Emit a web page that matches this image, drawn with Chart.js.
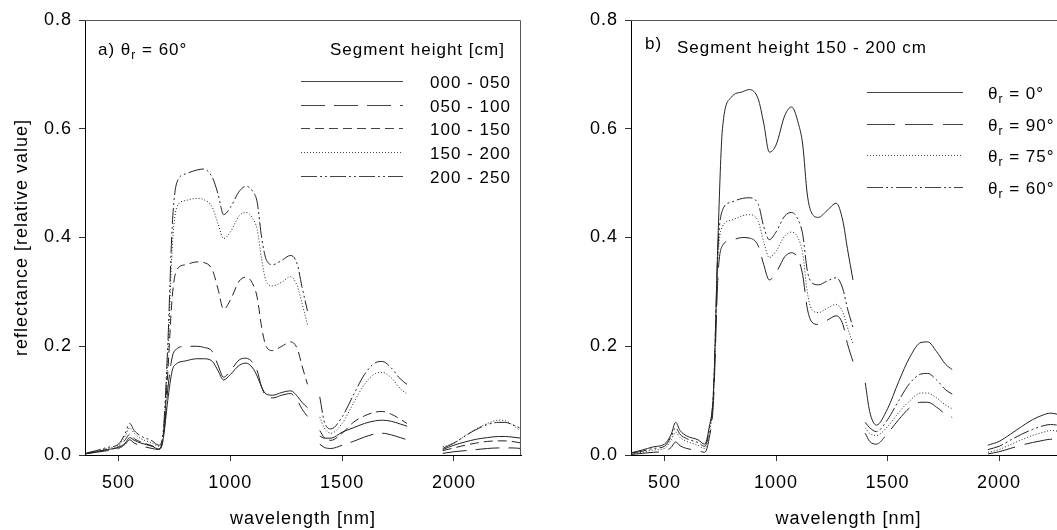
<!DOCTYPE html>
<html>
<head>
<meta charset="utf-8">
<script src="https://cdn.jsdelivr.net/npm/chart.js@4"></script>
<style>
  html, body { margin: 0; padding: 0; background: #fff; overflow: hidden; width: 1057px; height: 530px; }
  .panel { position: absolute; top: 0; width: 530px; height: 530px; }
  #panelA { left: 0; }
  #panelB { left: 545px; }
</style>
</head>
<body>
<div class="panel" id="panelA"><canvas id="chartA"></canvas></div>
<div class="panel" id="panelB"><canvas id="chartB"></canvas></div>
<script>
// Wavelengths (nm); null entries in the series break the line at the water bands
const wl = [350, 400, 450, 500, 530, 550, 570, 600, 650, 680, 700,
            720, 740, 760, 800, 850, 880, 920, 945, 970, 1000, 1040, 1070, 1100, 1120, 1140, 1160, 1190, 1230, 1270, 1300, 1320, 1345,
            1375,
            1400, 1420, 1450, 1500, 1550, 1600, 1650, 1680, 1720, 1760, 1790,
            1870,
            1950, 2000, 2050, 2100, 2150, 2200, 2230, 2260, 2300];

const xTicks = [500, 1000, 1500, 2000];
const yTicks = [0, 0.2, 0.4, 0.6, 0.8];

// a) theta_r = 60 deg, by segment height
const h000_050 = [0.002, 0.006, 0.010, 0.014, 0.022, 0.032, 0.027, 0.022, 0.016, 0.011, 0.030,
  0.100, 0.155, 0.168, 0.173, 0.177, 0.177, 0.172, 0.155, 0.138, 0.148, 0.165, 0.169, 0.160, 0.145, 0.125, 0.112, 0.110, 0.115, 0.118, 0.108, 0.097, 0.087,
  null,
  0.035, 0.031, 0.031, 0.042, 0.050, 0.058, 0.063, 0.064, 0.062, 0.057, 0.053,
  null,
  0.010, 0.018, 0.024, 0.029, 0.032, 0.034, 0.034, 0.033, 0.031];
const h050_100 = [0.002, 0.005, 0.008, 0.012, 0.020, 0.028, 0.022, 0.017, 0.012, 0.010, 0.030,
  0.120, 0.180, 0.195, 0.200, 0.200, 0.198, 0.190, 0.165, 0.143, 0.155, 0.175, 0.178, 0.170, 0.155, 0.125, 0.108, 0.105, 0.110, 0.113, 0.100, 0.085, 0.071,
  null,
  0.020, 0.014, 0.012, 0.018, 0.025, 0.033, 0.039, 0.040, 0.037, 0.032, 0.028,
  null,
  0.003, 0.006, 0.008, 0.010, 0.012, 0.013, 0.013, 0.013, 0.012];
const h100_150 = [0.002, 0.006, 0.010, 0.015, 0.028, 0.038, 0.030, 0.024, 0.017, 0.012, 0.035,
  0.150, 0.290, 0.340, 0.350, 0.355, 0.354, 0.340, 0.305, 0.268, 0.285, 0.320, 0.327, 0.315, 0.290, 0.235, 0.200, 0.192, 0.200, 0.208, 0.195, 0.165, 0.130,
  null,
  0.045, 0.032, 0.027, 0.040, 0.060, 0.072, 0.079, 0.080, 0.075, 0.066, 0.058,
  null,
  0.008, 0.013, 0.018, 0.022, 0.025, 0.026, 0.026, 0.025, 0.022];
const h150_200 = [0.003, 0.007, 0.012, 0.018, 0.035, 0.050, 0.040, 0.030, 0.022, 0.016, 0.040,
  0.180, 0.380, 0.455, 0.468, 0.472, 0.470, 0.455, 0.425, 0.398, 0.410, 0.440, 0.446, 0.435, 0.415, 0.360, 0.320, 0.311, 0.318, 0.328, 0.310, 0.280, 0.240,
  null,
  0.070, 0.050, 0.040, 0.058, 0.095, 0.130, 0.150, 0.152, 0.142, 0.122, 0.112,
  null,
  0.015, 0.022, 0.035, 0.048, 0.058, 0.064, 0.063, 0.056, 0.043];
const h200_250 = [0.003, 0.008, 0.014, 0.020, 0.040, 0.058, 0.045, 0.035, 0.026, 0.018, 0.045,
  0.200, 0.420, 0.500, 0.517, 0.524, 0.526, 0.510, 0.480, 0.442, 0.455, 0.485, 0.494, 0.485, 0.465, 0.400, 0.360, 0.350, 0.358, 0.367, 0.350, 0.310, 0.265,
  null,
  0.107, 0.062, 0.048, 0.070, 0.110, 0.148, 0.170, 0.172, 0.160, 0.140, 0.130,
  null,
  0.012, 0.022, 0.035, 0.047, 0.056, 0.060, 0.060, 0.056, 0.049];

// b) segment height 150 - 200 cm, by view angle
const r0 = [0.004, 0.009, 0.015, 0.020, 0.038, 0.060, 0.045, 0.035, 0.028, 0.020, 0.050,
  0.120, 0.400, 0.600, 0.658, 0.668, 0.672, 0.655, 0.610, 0.557, 0.570, 0.625, 0.640, 0.610, 0.570, 0.480, 0.445, 0.437, 0.450, 0.463, 0.430, 0.380, 0.322,
  null,
  0.133, 0.080, 0.055, 0.085, 0.135, 0.180, 0.207, 0.208, 0.190, 0.167, 0.157,
  null,
  0.018, 0.025, 0.038, 0.052, 0.065, 0.074, 0.077, 0.075, 0.070];
const r90 = [0.001, 0.003, 0.005, 0.007, 0.014, 0.024, 0.017, 0.012, 0.008, 0.005, 0.030,
  0.100, 0.330, 0.385, 0.395, 0.400, 0.399, 0.385, 0.350, 0.322, 0.335, 0.365, 0.372, 0.360, 0.330, 0.270, 0.245, 0.240, 0.248, 0.256, 0.240, 0.205, 0.172,
  null,
  0.040, 0.025, 0.020, 0.040, 0.065, 0.087, 0.097, 0.097, 0.088, 0.075, 0.069,
  null,
  0.002, 0.006, 0.012, 0.018, 0.023, 0.027, 0.029, 0.028, 0.026];
const r75 = [0.002, 0.005, 0.009, 0.012, 0.028, 0.042, 0.032, 0.025, 0.018, 0.012, 0.040,
  0.110, 0.360, 0.420, 0.432, 0.440, 0.442, 0.430, 0.392, 0.363, 0.375, 0.403, 0.410, 0.398, 0.370, 0.300, 0.268, 0.262, 0.270, 0.277, 0.262, 0.235, 0.205,
  null,
  0.050, 0.040, 0.036, 0.052, 0.078, 0.100, 0.114, 0.114, 0.105, 0.092, 0.085,
  null,
  0.005, 0.010, 0.019, 0.028, 0.036, 0.042, 0.045, 0.044, 0.041];
const r60 = [0.003, 0.007, 0.012, 0.016, 0.034, 0.050, 0.038, 0.030, 0.023, 0.016, 0.045,
  0.120, 0.380, 0.450, 0.465, 0.472, 0.473, 0.462, 0.420, 0.396, 0.410, 0.440, 0.446, 0.432, 0.405, 0.340, 0.317, 0.313, 0.320, 0.326, 0.305, 0.270, 0.235,
  null,
  0.060, 0.050, 0.043, 0.065, 0.100, 0.132, 0.149, 0.150, 0.138, 0.120, 0.112,
  null,
  0.010, 0.016, 0.027, 0.038, 0.047, 0.054, 0.056, 0.055, 0.051];

const FONT = '"Liberation Sans", Arial, sans-serif';
const lineColor = '#222';

const SOLID = [], LONGDASH = [24, 9], DASH = [9, 5], DOT = [1, 2], DASHDOTDOT = [16, 3, 2, 3, 2, 3];

function series(label, ys, dash) {
  return {
    label: label,
    data: wl.map((x, i) => ({ x: x, y: ys[i] })),
    borderColor: lineColor,
    borderWidth: 1,
    borderDash: dash,
    pointRadius: 0,
    cubicInterpolationMode: 'monotone',
    spanGaps: false
  };
}

// draw "θr" with a subscript r, then the rest of the text
function drawText(ctx, text, x, y) {
  if (text.indexOf('θr') >= 0) {
    const parts = text.split('θr');
    ctx.fillText(parts[0], x, y);
    x += ctx.measureText(parts[0]).width;
    ctx.fillText('θ', x, y);
    x += ctx.measureText('θ').width;
    const f = ctx.font;
    ctx.font = '12px ' + FONT;
    ctx.fillText('r', x, y + 4);
    x += ctx.measureText('r').width;
    ctx.font = f;
    ctx.fillText(parts[1], x, y);
  } else {
    ctx.fillText(text, x, y);
  }
}

// letter spacing + box frame
const frame = {
  id: 'frame',
  beforeDraw(chart) { chart.ctx.letterSpacing = '1px'; },
  afterDatasetsDraw(chart) {
    const a = chart.chartArea, ctx = chart.ctx;
    ctx.save();
    ctx.strokeStyle = '#555';
    ctx.lineWidth = 1;
    ctx.beginPath();
    ctx.moveTo(a.left, a.top + 0.5);
    ctx.lineTo(a.right - 0.5, a.top + 0.5);
    ctx.lineTo(a.right - 0.5, a.bottom);
    ctx.stroke();
    ctx.restore();
  }
};

// in-plot legend and panel captions
const notes = {
  id: 'notes',
  afterDraw(chart, args, o) {
    const ctx = chart.ctx;
    ctx.save();
    ctx.letterSpacing = '1px';
    ctx.fillStyle = '#000';
    ctx.font = '17px ' + FONT;
    ctx.textBaseline = 'alphabetic';
    ctx.textAlign = 'left';
    o.texts.forEach(t => drawText(ctx, t.text, t.x, t.y));
    chart.data.datasets.forEach((ds, i) => {
      const y = Math.round(o.rowY + i * o.rowGap) + 0.5;
      ctx.strokeStyle = '#444';
      ctx.lineWidth = 1;
      ctx.setLineDash(ds.borderDash);
      ctx.beginPath();
      ctx.moveTo(o.lineX0, y);
      ctx.lineTo(o.lineX1, y);
      ctx.stroke();
      ctx.setLineDash([]);
      drawText(ctx, ds.label, o.labelX, y + 6);
    });
    ctx.restore();
  }
};

function makeOptions(yWidth, showTitle, noteOpts) {
  return {
    responsive: true,
    maintainAspectRatio: false,
    animation: false,
    layout: { padding: { top: 20, right: 9, left: 0, bottom: 0 } },
    plugins: { legend: { display: false }, tooltip: { enabled: false }, notes: noteOpts },
    scales: {
      x: {
        type: 'linear',
        min: 350,
        max: 2300,
        afterBuildTicks: s => { s.ticks = xTicks.map(v => ({ value: v })); },
        afterFit: s => { s.height = 75; },
        grid: { drawOnChartArea: false, drawTicks: true, tickLength: 6, color: '#333' },
        border: { display: true, color: '#000', width: 1 },
        ticks: { color: '#000', font: { family: FONT, size: 18 }, padding: 11, maxRotation: 0, callback: v => String(v) },
        title: { display: true, text: 'wavelength [nm]', color: '#000', font: { family: FONT, size: 18 }, padding: { top: 0, bottom: 0 } }
      },
      y: {
        min: 0,
        max: 0.8,
        afterBuildTicks: s => { s.ticks = yTicks.map(v => ({ value: v })); },
        afterFit: s => { s.width = yWidth; },
        grid: { drawOnChartArea: false, drawTicks: true, tickLength: 6, color: '#333' },
        border: { display: true, color: '#000', width: 1 },
        ticks: { color: '#000', font: { family: FONT, size: 18 }, padding: 7, callback: v => v.toFixed(1) },
        title: { display: showTitle, text: 'reflectance [relative value]', color: '#000', font: { family: FONT, size: 18 }, padding: { top: 11, bottom: 0 } }
      }
    }
  };
}

new Chart(document.getElementById('chartA'), {
  type: 'line',
  data: {
    datasets: [
      series('000 - 050', h000_050, SOLID),
      series('050 - 100', h050_100, LONGDASH),
      series('100 - 150', h100_150, DASH),
      series('150 - 200', h150_200, DOT),
      series('200 - 250', h200_250, DASHDOTDOT)
    ]
  },
  options: makeOptions(85, true, {
    texts: [
      { text: 'a) θr = 60°', x: 98, y: 55 },
      { text: 'Segment height [cm]', x: 330, y: 55 }
    ],
    rowY: 81, rowGap: 23.7, lineX0: 301, lineX1: 403, labelX: 430
  }),
  plugins: [frame, notes]
});

new Chart(document.getElementById('chartB'), {
  type: 'line',
  data: {
    datasets: [
      series('θr = 0°', r0, SOLID),
      series('θr = 90°', r90, [28, 10]),
      series('θr = 75°', r75, DOT),
      series('θr = 60°', r60, DASHDOTDOT)
    ]
  },
  options: makeOptions(86, false, {
    texts: [
      { text: 'b)', x: 100, y: 49 },
      { text: 'Segment height 150 - 200 cm', x: 132, y: 53 }
    ],
    rowY: 92, rowGap: 31.5, lineX0: 322, lineX1: 418, labelX: 443
  }),
  plugins: [frame, notes]
});
</script>
</body>
</html>
